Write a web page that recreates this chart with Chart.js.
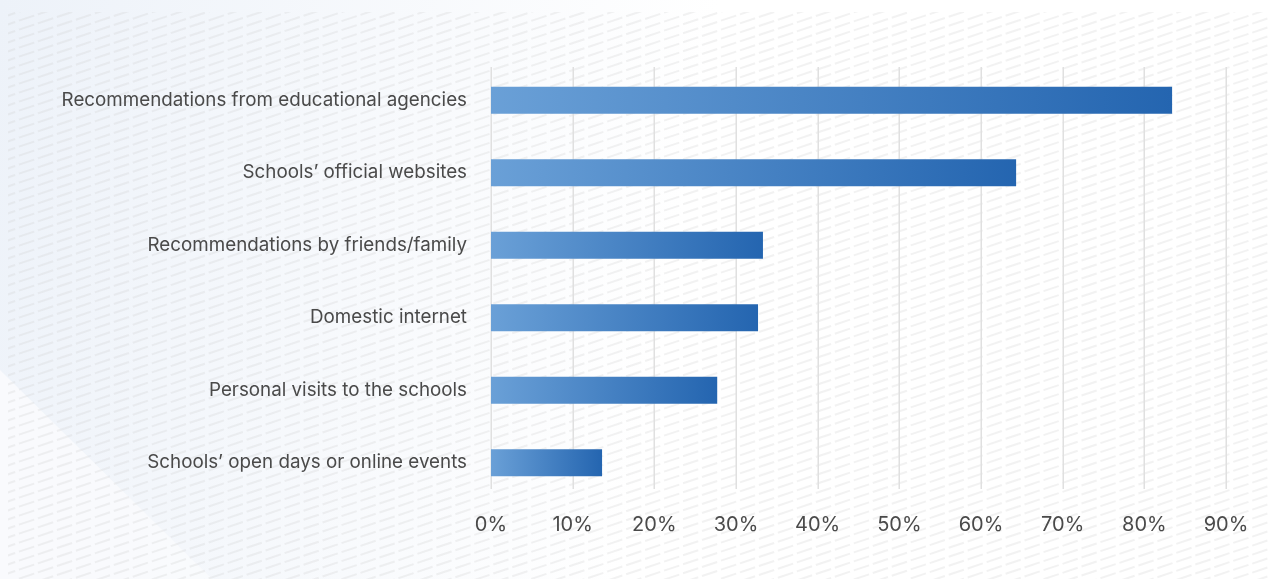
<!DOCTYPE html>
<html>
<head>
<meta charset="utf-8">
<script src="https://cdn.jsdelivr.net/npm/chart.js@4.4.1/dist/chart.umd.min.js"></script>
<style>
  html, body { margin: 0; padding: 0; background: #ffffff; }
  #wrap { width: 1271px; height: 579px; position: relative; overflow: hidden; }
</style>
</head>
<body>
<div id="wrap"><canvas id="c" width="1271" height="579"></canvas></div>
<script>
// Information sources used when choosing a school (share of respondents, %)
const categories = [
  "Recommendations from educational agencies",
  "Schools\u2019 official websites",
  "Recommendations by friends/family",
  "Domestic internet",
  "Personal visits to the schools",
  "Schools\u2019 open days or online events"
];
const shares = [83.4, 64.3, 33.3, 32.7, 27.7, 13.6];
const tickValues = [0, 10, 20, 30, 40, 50, 60, 70, 80, 90];

const TEXT = "#4a4a4a";
const FONT = "Inter, 'Noto Sans', sans-serif";

// Soft bluish wash with a fine diagonal dashed hatch behind everything
const backdrop = {
  id: "backdrop",
  beforeDraw(chart) {
    const { ctx, width, height } = chart;
    ctx.save();
    const wash = ctx.createLinearGradient(0, 0, 700, 120);
    wash.addColorStop(0, "#edf2f9");
    wash.addColorStop(1, "#ffffff");
    ctx.fillStyle = wash;
    ctx.fillRect(0, 0, width, height);

    // lighter diagonal facet in the lower-left corner
    ctx.beginPath();
    ctx.moveTo(0, 370);
    ctx.lineTo(212, height);
    ctx.lineTo(0, height);
    ctx.closePath();
    ctx.fillStyle = "rgba(249,251,253,0.9)";
    ctx.fill();

    // hatch
    ctx.beginPath();
    ctx.rect(8, 12, width - 8, height - 12);
    ctx.clip();
    ctx.strokeStyle = "rgba(205,205,205,0.26)";
    ctx.lineWidth = 2;
    ctx.setLineDash([16, 4]);
    const slope = 1 / 3;
    for (let y0 = 0; y0 < height + width * slope + 20; y0 += 9) {
      ctx.beginPath();
      ctx.moveTo(0, y0);
      ctx.lineTo(width, y0 - width * slope);
      ctx.stroke();
    }
    ctx.restore();
  },
  // vertical gridlines at each tick, under the bars
  beforeDatasetsDraw(chart) {
    const { ctx } = chart;
    const xs = chart.scales.x;
    ctx.save();
    ctx.strokeStyle = "#e0e0e0";
    ctx.lineWidth = 1.5;
    xs.ticks.forEach(t => {
      const x = Math.round(xs.getPixelForValue(t.value)) + 0.25;
      ctx.beginPath();
      ctx.moveTo(x, 67);
      ctx.lineTo(x, 489);
      ctx.stroke();
    });
    ctx.restore();
  }
};

function barFill(c) {
  const chart = c.chart;
  if (!chart.chartArea || c.type !== "data") return "#4a82c4";
  const xs = chart.scales.x;
  const x0 = xs.getPixelForValue(0);
  const x1 = xs.getPixelForValue(c.raw);
  const g = chart.ctx.createLinearGradient(x0, 0, x1, 0);
  g.addColorStop(0, "#6aa0d7");
  g.addColorStop(1, "#2465b0");
  return g;
}

new Chart(document.getElementById("c"), {
  type: "bar",
  data: {
    labels: categories,
    datasets: [{
      data: shares,
      backgroundColor: barFill,
      borderWidth: 0,
      categoryPercentage: 1,
      barPercentage: 0.372
    }]
  },
  options: {
    indexAxis: "y",
    responsive: false,
    animation: false,
    devicePixelRatio: 1,
    layout: { padding: { top: 64, right: 45, left: 0, bottom: 0 } },
    plugins: { legend: { display: false }, tooltip: { enabled: false } },
    scales: {
      x: {
        min: 0,
        max: 90,
        afterBuildTicks: s => { s.ticks = tickValues.map(v => ({ value: v })); },
        afterFit: s => { s.height = 80; },
        grid: { display: false, drawTicks: false },
        border: { display: false },
        ticks: {
          padding: 14,
          color: TEXT,
          font: { family: FONT, size: 20 },
          callback: v => v + "%"
        }
      },
      y: {
        afterFit: s => { s.width = 491; },
        grid: { display: false, drawTicks: false },
        border: { display: false },
        ticks: {
          padding: 24,
          color: TEXT,
          font: { family: FONT, size: 18.8, lineHeight: 1.4 }
        }
      }
    }
  },
  plugins: [backdrop]
});
</script>
</body>
</html>
